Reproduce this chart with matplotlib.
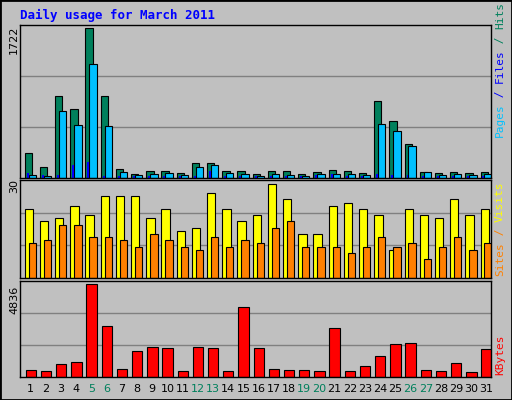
import matplotlib
matplotlib.use("Agg")
import matplotlib.pyplot as plt
from matplotlib.patches import Rectangle
import numpy as np

days = list(range(1, 32))
hits = [284, 121, 939, 787, 1722, 939, 109, 51, 86, 86, 62, 168, 168, 86, 86, 51,
        86, 86, 51, 74, 97, 86, 62, 880, 658, 390, 74, 62, 74, 62, 74]
files = [39, 27, 764, 612, 1313, 600, 74, 39, 51, 62, 39, 132, 144, 62, 51, 27,
         51, 39, 27, 51, 51, 51, 39, 623, 541, 366, 74, 39, 51, 39, 51]
pages = [62, 39, 39, 144, 179, 27, 27, 20, 20, 27, 20, 27, 86, 20, 20, 20,
         20, 20, 20, 39, 51, 27, 20, 51, 39, 39, 20, 20, 20, 20, 20]
visits = [22, 18, 19, 23, 20, 26, 26, 26, 19, 22, 15, 16, 27, 22, 18, 20,
          30, 25, 14, 14, 23, 24, 22, 20, 9, 22, 20, 19, 25, 20, 22]
sites = [11, 12, 17, 17, 13, 13, 12, 10, 14, 12, 10, 9, 13, 10, 12, 11,
         16, 18, 10, 10, 10, 8, 10, 13, 10, 11, 6, 10, 13, 9, 11]
kbytes = [388, 335, 653, 759, 4836, 2665, 441, 1341, 1553, 1500, 335, 1553, 1500, 335,
          3671, 1500, 441, 388, 388, 335, 2559, 335, 600, 1077, 1712, 1765, 388, 335, 706, 282, 1447]
weekends = [5, 6, 12, 13, 19, 20, 26, 27]

BG = "#c0c0c0"
W, H = 512, 400
fig = plt.figure(figsize=(5.12, 4.0), dpi=100, facecolor=BG)
fig.patches.append(Rectangle((0, 0), 1, 1, transform=fig.transFigure, fill=False,
                             edgecolor="black", lw=2))
mono = "DejaVu Sans Mono"

def mkax(top, bottom):
    ax = fig.add_axes([20 / W, 1 - bottom / H, 471 / W, (bottom - top) / H])
    ax.set_facecolor(BG)
    ax.set_xlim(0, 31)
    ax.set_xticks([])
    ax.set_yticks([])
    for s in ax.spines.values():
        s.set_color("black")
        s.set_linewidth(1)
    return ax

x = np.arange(31)
ax1 = mkax(25, 178)
ymax1 = 1722 * 150 / 147
ax1.set_ylim(0, ymax1)
for g in (ymax1 / 3, ymax1 * 2 / 3):
    ax1.axhline(g, color="#808080", lw=1, zorder=0)
ax1.bar(x + 0.31, hits, width=0.48, align="edge", color="#00805c", edgecolor="black", lw=0.8)
ax1.bar(x + 0.57, files, width=0.48, align="edge", color="#00c0ff", edgecolor="black", lw=0.8)
ax1.bar(x + 0.44, pages, width=0.13, align="edge", color="#0000ff", edgecolor="none")

ax2 = mkax(180, 278)
ymax2 = 30 * 287 / 276
ax2.set_ylim(0, ymax2)
for g in (ymax2 / 3, ymax2 * 2 / 3):
    ax2.axhline(g, color="#808080", lw=1, zorder=0)
ax2.bar(x + 0.31, visits, width=0.55, align="edge", color="#ffff00", edgecolor="black", lw=0.8)
ax2.bar(x + 0.57, sites, width=0.48, align="edge", color="#ff8000", edgecolor="black", lw=0.8)

ax3 = mkax(281, 377)
ymax3 = 4836 * 284 / 274
ax3.set_ylim(0, ymax3)
for g in (ymax3 / 3, ymax3 * 2 / 3):
    ax3.axhline(g, color="#808080", lw=1, zorder=0)
ax3.bar(x + 0.37, kbytes, width=0.68, align="edge", color="#ff0000", edgecolor="black", lw=0.8)

for d in days:
    fig.text((20 + (d - 0.3) * 15.2) / W, 1 - 389 / H, str(d), ha="center", va="center",
             fontsize=8, color="#00805c" if d in weekends else "black")

fig.text(20 / W, 1 - 15 / H, "Daily usage for March 2011", fontsize=9, fontweight="bold",
         family=mono, color="#0000ff", va="center")
for lbl, yp in (("1722", 40), ("30", 186), ("4836", 300)):
    fig.text(14 / W, 1 - yp / H, lbl, rotation=90, fontsize=8, ha="center", va="center")

def side(parts, ybottom):
    y = ybottom
    for txt, col in parts:
        fig.text(500 / W, 1 - y / H, txt, rotation=90, fontsize=8, family=mono, color=col,
                 ha="center", va="bottom")
        y -= len(txt) * 6.5 + 1

side([("Pages", "#00c0ff"), (" / ", "#0000ff"), ("Files", "#0000ff"), (" / ", "#00805c"), ("Hits", "#00805c")], 137)
side([("Sites", "#ff8000"), (" / ", "#ff8000"), ("Visits", "#ffff00")], 276)
side([("KBytes", "#ff0000")], 375)

fig.savefig("out.png", dpi=100, facecolor=BG)
